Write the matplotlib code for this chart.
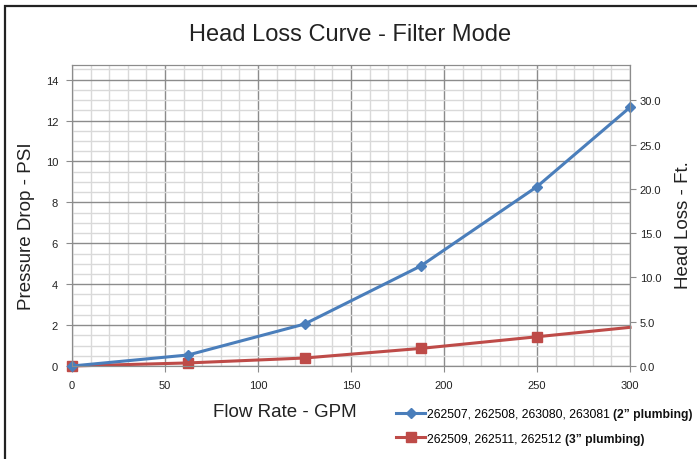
import matplotlib
matplotlib.use("Agg")
import matplotlib.pyplot as plt
from matplotlib.patches import Rectangle
from matplotlib.transforms import IdentityTransform
import numpy as np

plt.rcParams['font.family'] = ['Liberation Sans', 'DejaVu Sans']

# data
flow = [0, 62.5, 125, 187.5, 250, 300]
psi_2in = [0, 0.54, 2.05, 4.89, 8.77, 12.65]
psi_3in = [0, 0.15, 0.39, 0.86, 1.43, 1.89]
label_2in = "262507, 262508, 263080, 263081"
bold_2in = "(2\u201d plumbing)"
label_3in = "262509, 262511, 262512"
bold_3in = "(3\u201d plumbing)"
ft_per_psi = 2.31
ft_max = 34.0

blue = '#4A7EBB'
red = '#BE4B48'

fig = plt.figure(figsize=(6.97, 4.60), dpi=100)
ax = fig.add_axes([72/697, 1-367/460, (630-72)/697, (367-66)/460])

l1, = ax.plot(flow, psi_2in, color=blue, lw=2.2, marker='D', ms=5,
              label=label_2in, zorder=4, clip_on=False)
l2, = ax.plot(flow, psi_3in, color=red, lw=2.2, marker='s', ms=7,
              markevery=[0, 1, 2, 3, 4], label=label_3in, zorder=3, clip_on=False)

ax.set_xlim(0, 300)
ax.set_ylim(0, ft_max/ft_per_psi)
ax.set_xticks(np.arange(0, 301, 50))
ax.set_xticks(np.arange(0, 301, 10), minor=True)
ax.set_yticks(np.arange(0, 15, 2))
ax.set_yticks(np.arange(0, 14.8, 0.5), minor=True)
ax.grid(which='major', color='#8c8c8c', lw=1.0, zorder=1)
ax.grid(which='minor', color='#d9d9d9', lw=1.0, zorder=0)
ax.set_axisbelow(True)
for s in ax.spines.values():
    s.set_color('#8c8c8c')
ax.tick_params(which='major', length=4, color='#8c8c8c', labelsize=8,
               labelcolor='#222222', pad=6)
ax.tick_params(which='minor', length=0)

ax2 = ax.twinx()
ax2.set_ylim(0, ft_max)
ax2.set_yticks(np.arange(0, 31, 5))
ax2.set_yticklabels(['%.1f' % v for v in np.arange(0, 31, 5)])
for s in ax2.spines.values():
    s.set_color('#8c8c8c')
ax2.tick_params(length=4, color='#8c8c8c', labelsize=8, labelcolor='#222222', pad=3)

fig.text(0.502, 1-35/460, "Head Loss Curve - Filter Mode", ha='center', va='center',
         fontsize=17, color='#222222')
fig.text(27/697, 1-226/460, "Pressure Drop - PSI", rotation=90, ha='center', va='center',
         fontsize=13.5, color='#222222')
fig.text(684/697, 1-225/460, "Head Loss - Ft.", rotation=90, ha='center', va='center',
         fontsize=13.5, color='#222222')
fig.text(285/697, 1-413/460, "Flow Rate - GPM", ha='center', va='center',
         fontsize=13.5, color='#222222')

leg = fig.legend(handles=[l1, l2], loc='upper left', bbox_to_anchor=(396/697, 1-409/460),
                 frameon=False, fontsize=8.7, handlelength=2.4, handletextpad=0.2,
                 labelspacing=1.05, borderaxespad=0, borderpad=0)

# bold tail of each legend entry
fig.canvas.draw()
r = fig.canvas.get_renderer()
for t, b in zip(leg.get_texts(), [bold_2in, bold_3in]):
    bb = t.get_window_extent(r)
    base = t.get_transform().transform(t.get_position())
    fig.text(bb.x1 + 3, base[1], b, transform=IdentityTransform(), va='baseline',
             ha='left', fontsize=8.7, fontweight='bold', color='#111111')

fig.add_artist(Rectangle((5/697, -0.1), 2, 1-7/460+0.1, transform=fig.transFigure,
                         fill=False, lw=1.6, edgecolor='#222222'))

fig.savefig("out.png", dpi=100)
